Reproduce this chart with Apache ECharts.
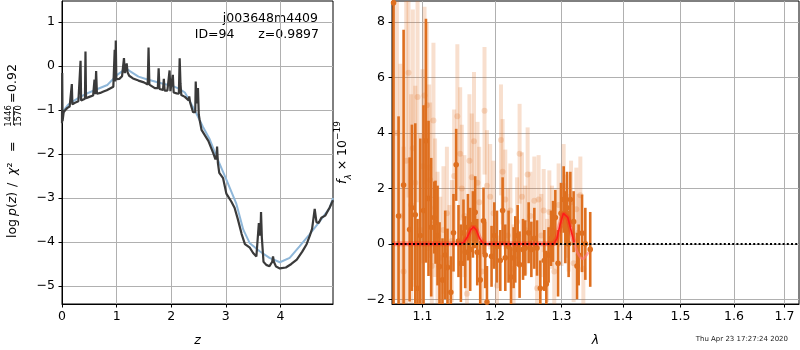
<!DOCTYPE html>
<html>
<head>
<meta charset="utf-8">
<script src="https://cdn.jsdelivr.net/npm/echarts@6/dist/echarts.min.js"></script>
<style>
  html, body { margin: 0; padding: 0; background: #fff; }
  #chart { width: 800px; height: 350px; }
</style>
</head>
<body>
<div id="chart"></div>
<script>
const fontFamily = 'DejaVu Sans';

// left panel: log p(z) and the smoothed fit
const pzZ = [0.000, 0.004, 0.010, 0.030, 0.060, 0.100, 0.140, 0.170, 0.180, 0.190, 0.220, 0.260, 0.300, 0.330, 0.340, 0.350,
  0.380, 0.420, 0.430, 0.440, 0.500, 0.570, 0.585, 0.595, 0.610, 0.625, 0.640, 0.700, 0.760, 0.820, 0.880, 0.940,
  0.955, 0.965, 0.975, 0.985, 0.995, 1.010, 1.050, 1.100, 1.125, 1.135, 1.150, 1.170, 1.185, 1.200, 1.230, 1.300,
  1.400, 1.500, 1.570, 1.585, 1.600, 1.650, 1.700, 1.755, 1.770, 1.785, 1.850, 1.865, 1.880, 1.930, 1.955, 1.970,
  1.985, 2.020, 2.030, 2.045, 2.100, 2.140, 2.155, 2.170, 2.185, 2.250, 2.320, 2.330, 2.345, 2.400, 2.440, 2.449,
  2.465, 2.490, 2.505, 2.520, 2.555, 2.620, 2.680, 2.770, 2.810, 2.830, 2.840, 2.855, 2.880, 2.910, 2.950, 3.010,
  3.100, 3.160, 3.220, 3.290, 3.350, 3.440, 3.500, 3.560, 3.590, 3.605, 3.620, 3.635, 3.645, 3.660, 3.690, 3.740,
  3.800, 3.850, 3.865, 3.880, 3.920, 3.990, 4.100, 4.200, 4.300, 4.400, 4.480, 4.540, 4.580, 4.628, 4.660, 4.700,
  4.750, 4.820, 4.900, 4.963];
const pzLogp = [-1.30, -0.16, -1.25, -1.05, -1.00, -0.95, -0.92, -0.88, -0.41, -0.87, -0.85, -0.82, -0.80, -0.78, 0.12, -0.78,
  -0.76, -0.74, 0.33, -0.73, -0.70, -0.67, -0.65, -0.31, -0.64, -0.11, -0.63, -0.61, -0.58, -0.55, -0.51, -0.47,
  -0.46, 0.37, -0.35, 0.58, -0.30, -0.32, -0.29, -0.23, -0.20, 0.18, -0.16, -0.14, 0.06, -0.14, -0.22, -0.28,
  -0.33, -0.37, -0.42, 0.42, -0.42, -0.46, -0.50, -0.50, -0.05, -0.52, -0.54, -0.29, -0.56, -0.56, -0.56, -0.10,
  -0.57, -0.58, -0.20, -0.60, -0.62, -0.63, 0.18, -0.40, -0.66, -0.70, -0.78, -0.69, -0.82, -1.05, -1.05, -0.35,
  -0.85, -0.50, -1.10, -1.22, -1.45, -1.58, -1.70, -1.98, -2.12, -2.05, -1.83, -2.20, -2.43, -2.40, -2.55, -2.90,
  -3.08, -3.22, -3.48, -3.82, -4.05, -4.13, -4.25, -4.33, -4.30, -3.57, -3.85, -3.80, -3.32, -3.90, -4.45, -4.52,
  -4.55, -4.45, -4.33, -4.45, -4.56, -4.60, -4.58, -4.50, -4.40, -4.22, -4.05, -3.85, -3.70, -3.25, -3.55, -3.57,
  -3.45, -3.40, -3.22, -3.05];
const fitZ = [0.00, 0.05, 0.11, 0.20, 0.35, 0.50, 0.65, 0.83, 1.01, 1.10, 1.17, 1.25, 1.40, 1.55, 1.70, 1.85, 2.00, 2.15,
  2.25, 2.34, 2.45, 2.58, 2.70, 2.83, 3.01, 3.19, 3.32, 3.44, 3.62, 3.80, 3.99, 4.17, 4.35, 4.53, 4.72, 4.90, 4.963];
const fitLogp = [-1.05, -0.98, -0.88, -0.80, -0.69, -0.60, -0.52, -0.43, -0.20, -0.12, -0.05, -0.12, -0.24, -0.30, -0.35,
  -0.40, -0.44, -0.52, -0.60, -0.80, -1.05, -1.38, -1.65, -2.06, -2.58, -3.12, -3.72, -4.03, -4.21, -4.36, -4.46,
  -4.36, -4.10, -3.83, -3.53, -3.23, -3.00];
const zTicks = [0, 1, 2, 3, 4];
const logpTicks = [-5, -4, -3, -2, -1, 0, 1];

// right panel: spectrum (strong points, faint points) and line model
const specLam = [1.0623, 1.0687, 1.0752, 1.0830, 1.0860, 1.0904, 1.0934, 1.0970, 1.1013, 1.1045, 1.1079, 1.1115, 1.1155,
  1.1173, 1.1200, 1.1227, 1.1267, 1.1304, 1.1335, 1.1381, 1.1417, 1.1454, 1.1486, 1.1519, 1.1555, 1.1579, 1.1617,
  1.1649, 1.1687, 1.1719, 1.1748, 1.1790, 1.1837, 1.1861, 1.1886, 1.1952, 1.1991, 1.2030, 1.2078, 1.2112, 1.2151,
  1.2199, 1.2235, 1.2273, 1.2298, 1.2333, 1.2362, 1.2413, 1.2447, 1.2497, 1.2538, 1.2583, 1.2624, 1.2674, 1.2735,
  1.2766, 1.2801, 1.2838, 1.2869, 1.2905, 1.2947, 1.2994, 1.3035, 1.3061, 1.3088, 1.3113, 1.3140, 1.3192, 1.3246,
  1.3272, 1.3326, 1.3379, 1.3458];
const specFlux = [8.7, 1.0, 2.12, 0.52, 1.3, 1.05, -1.6, 0.3, 1.2, 3.72, 1.64, 0.6, 0.95,
  0.78, 0.3, -0.82, -1.3, -0.4, -0.85, -1.75, 0.4, 2.85, 0.1, -0.7, 0.4, -0.3, 0.6,
  -0.2, 0.7, 1.14, -0.3, -1.3, 0.83, -0.4, -2.1, -0.45, 0.3, -0.1, -0.6, 1.2, -0.5,
  -0.1, -1.2, -0.5, -0.2, 0.3, -0.75, -0.2, -0.15, 0.4, -0.2, 0.2, -0.15, -1.6, -0.6,
  -1.45, -0.4, 0.2, 0.45, 0.95, -0.7, 1.1, 1.6, 0.6, 1.3, 0.0, 1.6, 0.8, -0.8,
  -0.4, 0.38, 0.0, -0.2];
const specErr = [20, 3.6, 5.6, 2.6, 3.0, 3.3, 2.5, 3.5, 3.8, 4.4, 2.8, 2.5, 1.3,
  1.5, 1.8, 1.6, 1.5, 1.6, 1.4, 1.3, 1.4, 1.3, 1.3, 1.4, 1.2, 1.3, 1.2,
  1.5, 1.2, 1.3, 1.2, 1.4, 1.2, 1.2, 1.3, 1.1, 1.2, 1.3, 1.1, 1.2, 1.2,
  1.3, 1.1, 1.1, 1.2, 1.1, 1.2, 1.1, 1.0, 1.1, 1.0, 1.1, 1.0, 1.0, 1.1,
  1.2, 1.0, 1.0, 1.1, 1.0, 1.2, 1.1, 1.2, 1.3, 1.3, 1.2, 1.0, 1.1, 1.2,
  1.1, 1.4, 1.3, 1.35];
const faintLam = [1.0666, 1.0710, 1.0752, 1.0786, 1.0816, 1.0850, 1.0872, 1.0904, 1.0934, 1.0970, 1.1000, 1.1026, 1.1057,
  1.1088, 1.1101, 1.1123, 1.1145, 1.1167, 1.1200, 1.1236, 1.1280, 1.1327, 1.1362, 1.1394, 1.1426, 1.1470, 1.1509,
  1.1532, 1.1568, 1.1603, 1.1638, 1.1671, 1.1702, 1.1752, 1.1776, 1.1813, 1.1851, 1.1886, 1.1932, 1.1981, 1.2030,
  1.2088, 1.2112, 1.2151, 1.2191, 1.2225, 1.2273, 1.2324, 1.2362, 1.2398, 1.2447, 1.2482, 1.2523, 1.2583, 1.2624,
  1.2648, 1.2689, 1.2725, 1.2777, 1.2812, 1.2853, 1.2888, 1.2956, 1.3000, 1.3035, 1.3077, 1.3113, 1.3151, 1.3192,
  1.3235, 1.3267, 1.3299, 1.3347];
const faintFlux = [4.0, 1.0, -1.0, 3.0, 6.17, 1.4, 3.45, 2.2, 5.3, 0.5, 2.8, 5.35, 5.0,
  2.75, 2.3, -0.8, 4.45, 1.3, 0.2, -0.5, 0.5, 1.1, -0.7, 0.1, 2.45, 4.6, 3.25,
  2.0, 1.0, -1.8, 3.0, 2.4, 3.7, 2.2, 1.5, -1.0, 4.8, 2.1, 1.7, 1.1, -1.5,
  3.75, 2.6, 1.6, 0.3, 1.2, -0.9, 0.8, 3.25, 1.7, 0.5, 2.5, 1.0, 1.55, -1.6,
  1.6, 0.3, 1.2, -0.6, 1.15, 0.6, -1.0, 1.4, 0.7, 2.1, 1.0, 0.4, 1.5, -0.7,
  1.25, 0.4, 1.75, -0.9];
const faintErr = [6.0, 5.5, 4.5, 6.0, 4.5, 4.0, 5.0, 3.5, 3.8, 3.5, 3.5, 3.2, 3.0,
  3.0, 2.8, 2.5, 2.8, 2.5, 2.4, 2.2, 2.3, 2.4, 2.1, 2.2, 2.4, 2.6, 2.4,
  2.3, 2.2, 2.0, 2.4, 2.3, 2.5, 2.2, 2.0, 1.9, 2.3, 2.0, 1.9, 1.9, 1.8,
  2.0, 1.9, 1.8, 1.7, 1.7, 1.6, 1.6, 1.8, 1.6, 1.6, 1.7, 1.6, 1.6, 1.5,
  1.6, 1.5, 1.5, 1.5, 1.5, 1.5, 1.4, 1.5, 1.5, 1.5, 1.5, 1.4, 1.5, 1.4,
  1.5, 1.4, 1.4, 1.4];
const modelLam = [1.0625, 1.150, 1.156, 1.161, 1.1655, 1.1695, 1.1735, 1.178, 1.183, 1.188, 1.288, 1.293, 1.298,
  1.303, 1.306, 1.310, 1.315, 1.320, 1.325, 1.330, 1.335, 1.340, 1.343];
const modelFlux = [0, 0, 0.05, 0.25, 0.5, 0.62, 0.5, 0.2, 0.02, 0, 0, 0.2, 0.7,
  1.1, 1.15, 0.95, 0.5, 0.05, -0.3, -0.5, -0.55, -0.4, -0.3];
const lamTicks = [1.1, 1.2, 1.3, 1.4, 1.5, 1.6, 1.7];
const fluxTicks = [-2, 0, 2, 4, 6, 8];

const orange = '#de6f1f';
const faint = 'rgba(222,111,31,0.22)';
const minus = v => String(v).replace('-', '\u2212');
const txt = { color: '#000', fontFamily: fontFamily, fontSize: 12.5 };
const gtxt = { fill: '#000', fontFamily: fontFamily, fontSize: 12.5, verticalAlign: 'middle', align: 'left' };
const gRich = {
  i: { fill: '#000', fontFamily: fontFamily, fontSize: 12.5, fontStyle: 'italic' },
  n: { fill: '#000', fontFamily: fontFamily, fontSize: 12.5 },
};

function errorBars(color, lineWidth, radius) {
  return function (params, api) {
    const cs = params.coordSys;
    const x = api.value(0), y = api.value(1), e = api.value(2);
    const p = api.coord([x, y]);
    const hi = api.coord([x, y + e]);
    const lo = api.coord([x, y - e]);
    const top = cs.y, bottom = cs.y + cs.height;
    const y1 = Math.max(hi[1], top), y2 = Math.min(lo[1], bottom);
    const children = [];
    if (y2 > y1) {
      children.push({ type: 'line', shape: { x1: p[0], y1: y1, x2: p[0], y2: y2 }, style: { stroke: color, lineWidth: lineWidth } });
    }
    if (p[1] >= top && p[1] <= bottom) {
      children.push({ type: 'circle', shape: { cx: p[0], cy: p[1], r: radius }, style: { fill: color } });
    }
    return { type: 'group', children: children };
  };
}

const log10 = Math.log10;
const zip = (xs, ys) => xs.map((x, i) => [x, ys[i]]);
const modelData = zip(modelLam.map(log10), modelFlux);

const axisCommon = {
  axisLine: { show: true, onZero: false, lineStyle: { color: '#000', width: 1 } },
  axisTick: { show: true, length: 3.5, lineStyle: { color: '#000', width: 1 } },
  splitLine: { show: true, lineStyle: { color: '#b0b0b0', width: 1 } },
};

const chart = echarts.init(document.getElementById('chart'));
chart.setOption({
  animation: false,
  backgroundColor: '#fff',
  textStyle: { fontFamily: fontFamily },
  grid: [
    { left: 62, top: 1, width: 271, height: 303, show: true, borderColor: '#000', borderWidth: 1, containLabel: false, outerBoundsMode: 'none' },
    { left: 392, top: 1, width: 407, height: 303, show: true, borderColor: '#000', borderWidth: 1, containLabel: false, outerBoundsMode: 'none' },
  ],
  xAxis: [
    {
      gridIndex: 0, type: 'value', min: 0, max: 4.963,
      ...axisCommon,
      axisTick: { ...axisCommon.axisTick, customValues: zTicks },
      axisLabel: { ...txt, margin: 6, customValues: zTicks, formatter: minus },
      name: 'z', nameLocation: 'middle', nameGap: 30,
      nameTextStyle: { ...txt, fontStyle: 'italic' },
    },
    {
      gridIndex: 1, type: 'value', min: log10(1.0603), max: log10(1.730),
      ...axisCommon,
      axisTick: { ...axisCommon.axisTick, customValues: lamTicks.map(log10) },
      axisLabel: { ...txt, margin: 6, customValues: lamTicks.map(log10), formatter: v => Math.pow(10, v).toFixed(1) },
      name: 'λ', nameLocation: 'middle', nameGap: 30,
      nameTextStyle: { ...txt, fontStyle: 'italic' },
    },
  ],
  yAxis: [
    {
      gridIndex: 0, type: 'value', min: -5.41, max: 1.48,
      ...axisCommon,
      axisTick: { ...axisCommon.axisTick, customValues: logpTicks },
      axisLabel: { ...txt, margin: 7, customValues: logpTicks, formatter: minus },
    },
    {
      gridIndex: 1, type: 'value', min: -2.17, max: 8.76,
      ...axisCommon,
      axisTick: { ...axisCommon.axisTick, customValues: fluxTicks },
      axisLabel: { ...txt, margin: 7, customValues: fluxTicks, formatter: minus },
      name: '{i|f}{sub|λ}{n| × 10}{sup|−19}',
      nameLocation: 'middle', nameRotate: 90, nameGap: 39,
      nameTextStyle: {
        ...txt,
        rich: {
          i: { ...txt, fontStyle: 'italic', lineHeight: 20, verticalAlign: 'middle' },
          n: { ...txt, lineHeight: 20, verticalAlign: 'middle' },
          sub: { ...txt, fontSize: 9, fontStyle: 'italic', lineHeight: 20, verticalAlign: 'bottom' },
          sup: { ...txt, fontSize: 9, lineHeight: 20, verticalAlign: 'top' },
        },
      },
    },
  ],
  series: [
    {
      type: 'line', xAxisIndex: 0, yAxisIndex: 0, showSymbol: false, silent: true,
      data: zip(fitZ, fitLogp),
      lineStyle: { color: '#8fb7d9', width: 2 },
    },
    {
      type: 'line', xAxisIndex: 0, yAxisIndex: 0, showSymbol: false, silent: true,
      data: zip(pzZ, pzLogp),
      lineStyle: { color: '#3a3a3a', width: 2.2 },
    },
    {
      type: 'custom', xAxisIndex: 1, yAxisIndex: 1, silent: true,
      renderItem: errorBars(faint, 4, 3),
      encode: { x: 0, y: 1 },
      data: faintLam.map((l, i) => [log10(l), faintFlux[i], faintErr[i]]),
    },
    {
      type: 'custom', xAxisIndex: 1, yAxisIndex: 1, silent: true,
      renderItem: errorBars(orange, 2.6, 2.8),
      encode: { x: 0, y: 1 },
      data: specLam.map((l, i) => [log10(l), specFlux[i], specErr[i]]),
    },
    {
      type: 'line', xAxisIndex: 1, yAxisIndex: 1, showSymbol: false, silent: true,
      data: modelData.filter(d => d[0] <= log10(1.322)),
      lineStyle: { color: 'rgba(255,40,20,0.35)', width: 5 },
    },
    {
      type: 'line', xAxisIndex: 1, yAxisIndex: 1, showSymbol: false, silent: true,
      data: modelData.filter(d => d[0] <= log10(1.322)),
      lineStyle: { color: '#ff1a1a', width: 1.6 },
    },
    {
      type: 'line', xAxisIndex: 1, yAxisIndex: 1, showSymbol: false, silent: true,
      data: modelData.filter(d => d[0] >= log10(1.320)),
      lineStyle: { color: 'rgba(255,120,130,0.6)', width: 2.5 },
      markLine: {
        silent: true, symbol: 'none', label: { show: false },
        lineStyle: { color: '#000', type: [2, 2.2], width: 1.8 },
        data: [{ yAxis: 0 }],
      },
    },
  ],
  graphic: [
    { type: 'text', x: 318, y: 19, style: { ...gtxt, text: 'j003648m4409', align: 'right' } },
    { type: 'text', x: 319, y: 35, style: { ...gtxt, text: 'ID=94      z=0.9897', align: 'right' } },
    {
      // rotated y label of the left panel, laid out along the reading direction
      type: 'group', x: 13, y: 239, rotation: Math.PI / 2,
      children: [
        { type: 'text', x: 1, y: 0, style: { ...gtxt, text: 'log' } },
        { type: 'text', x: 23, y: 0, style: { ...gtxt, text: '{i|p}{n|(}{i|z}{n|)}', rich: gRich } },
        { type: 'text', x: 52, y: 0, style: { ...gtxt, text: '/' } },
        { type: 'text', x: 64, y: 0, style: { ...gtxt, text: '{i|χ}{n|²}', rich: gRich } },
        { type: 'text', x: 87, y: 0, style: { ...gtxt, text: '=' } },
        { type: 'text', x: 123, y: -4.5, style: { ...gtxt, text: '1446', fontSize: 8.5, align: 'center' } },
        { type: 'line', shape: { x1: 114, y1: 0.5, x2: 132, y2: 0.5 }, style: { stroke: '#000', lineWidth: 0.8 } },
        { type: 'text', x: 123, y: 5.5, style: { ...gtxt, text: '1570', fontSize: 8.5, align: 'center' } },
        { type: 'text', x: 136, y: 0, style: { ...gtxt, text: '=' } },
        { type: 'text', x: 147, y: 0, style: { ...gtxt, text: '0.92' } },
      ],
    },
    { type: 'text', x: 788, y: 339, style: { ...gtxt, text: 'Thu Apr 23 17:27:24 2020', fontSize: 7, fill: '#222', align: 'right' } },
  ],
});
</script>
</body>
</html>
